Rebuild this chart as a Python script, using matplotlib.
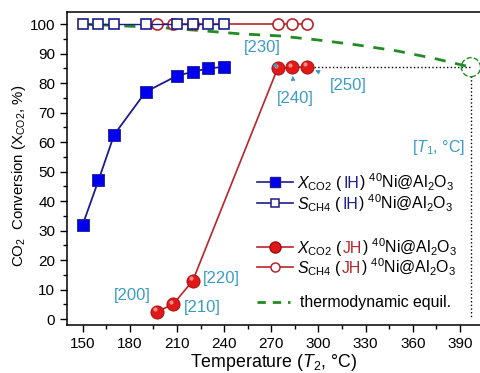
import matplotlib
matplotlib.use("Agg")
import matplotlib.pyplot as plt
from matplotlib import transforms
from matplotlib.lines import Line2D
from matplotlib.offsetbox import (AnchoredOffsetbox, DrawingArea, HPacker,
                                  TextArea)

plt.rcParams['font.family'] = ['Liberation Sans', 'DejaVu Sans']
plt.rcParams['mathtext.fontset'] = 'custom'
plt.rcParams['mathtext.rm'] = 'Liberation Sans'
plt.rcParams['mathtext.it'] = 'Liberation Sans:italic'
plt.rcParams['mathtext.bf'] = 'Liberation Sans:bold'

# ---- data ----
ih_temp = [150, 160, 170, 190, 210, 220, 230, 240]
ih_xco2 = [32.0, 47.0, 62.5, 77.0, 82.5, 83.8, 85.0, 85.5]
ih_sch4 = [100, 100, 100, 100, 100, 100, 100, 100]

jh_temp = [197, 207.5, 220, 274, 283, 293]
jh_xco2 = [2.5, 5.0, 13.0, 85.0, 85.3, 85.5]
jh_sch4 = [100, 100, 100, 100, 100, 100]
jh_t1 = ["[200]", "[210]", "[220]", "[230]", "[240]", "[250]"]

eq_temp = [150, 175, 200, 225, 250, 275, 300, 325, 350, 375, 397]
eq_conv = [100, 99.4, 98.8, 97.8, 96.7, 96.0, 94.6, 92.9, 90.9, 88.2, 85.4]

# label positions for the T1 annotations (data coords)
lab_pos = [(181.5, 8.1), (226, 4.1), (238.5, 13.6),
           (264, 91.9), (285, 74.9), (319, 79.3)]

navy = '#1c1c8c'
blue = '#0000ee'
red = '#e01818'
dred = '#b5262a'
green = '#228b22'
cyan = '#3b9cc4'

fig = plt.figure(figsize=(4.81, 3.73), dpi=100)
ax = fig.add_axes([67 / 481, 48 / 373, 414 / 481, 313 / 373])

# thermodynamic equilibrium
ax.plot(eq_temp, eq_conv, '--', color=green, lw=2.0, dashes=(4, 3.5), zorder=1)
ax.scatter([eq_temp[-1]], [eq_conv[-1]], s=190, facecolors='none',
           edgecolors=green, linestyles='--', linewidths=1.0, zorder=2)
# dotted guide lines to the equilibrium point
ax.plot([jh_temp[-1] + 4, eq_temp[-1]], [jh_xco2[-1], jh_xco2[-1]], ':',
        color='k', lw=1.0, zorder=1)
ax.plot([eq_temp[-1], eq_temp[-1]], [eq_conv[-1] - 3, 0], ':', color='k',
        lw=1.0, zorder=1)

# IH series
ax.plot(ih_temp, ih_xco2, '-s', color=navy, lw=1.3, ms=8.5,
        mfc=blue, mec=navy, mew=0.6, zorder=4)
ax.plot(ih_temp, ih_sch4, '-s', color=navy, lw=1.0, ms=7, mfc='white',
        mec=navy, mew=1.2, zorder=4)

# JH series
ax.plot(jh_temp, jh_sch4, '-o', color=dred, lw=1.2, ms=8, mfc='white',
        mec=dred, mew=1.2, zorder=3)
ax.plot(jh_temp, jh_xco2, '-o', color=dred, lw=1.2, ms=9.5, mfc=red,
        mec='#9c1010', mew=0.6, zorder=4)
hl = transforms.offset_copy(ax.transData, fig=fig, x=-1.5, y=1.8, units='points')
ax.plot(jh_temp, jh_xco2, 'o', ms=3, mfc='#ff9a9a', mec='none', alpha=0.9,
        transform=hl, zorder=5)

# T1 annotations
for i, (lab, (tx, ty)) in enumerate(zip(jh_t1, lab_pos)):
    if i < 3:
        ax.text(tx, ty, lab, color=cyan, fontsize=12, ha='center',
                va='center', zorder=6)
    else:
        ax.annotate(lab, xy=(jh_temp[i], jh_xco2[i]), xytext=(tx, ty),
                    color=cyan, fontsize=12, ha='center', va='center',
                    arrowprops=dict(arrowstyle='-|>', color=cyan, lw=0.8,
                                    mutation_scale=6, shrinkA=7, shrinkB=6),
                    zorder=6)
ax.text(376.5, 58.3, "[$T_1$, °C]", color=cyan, fontsize=11.5,
        ha='center', va='center')

# custom legend with coloured IH / JH
rows = [
    (0.457, dict(marker='s', color=navy, mfc=blue, mec=navy, ms=7),
     "$X_{\\mathrm{CO2}}$ (", "IH", navy),
    (0.390, dict(marker='s', color=navy, mfc='white', mec=navy, ms=6, mew=1.1),
     "$S_{\\mathrm{CH4}}$ (", "IH", navy),
    (0.249, dict(marker='o', color=dred, mfc=red, mec='#9c1010', ms=8),
     "$X_{\\mathrm{CO2}}$ (", "JH", dred),
    (0.185, dict(marker='o', color=dred, mfc='white', mec=dred, ms=6.5, mew=1.1),
     "$S_{\\mathrm{CH4}}$ (", "JH", dred),
]
fs_leg = 11.4
tp = dict(size=fs_leg)
for yfrac, style, pre, mode, mcol in rows:
    da = DrawingArea(26, 8, 0, 0)
    da.add_artist(Line2D([0, 26], [4, 4], lw=1.2, color=style.pop('color')))
    da.add_artist(Line2D([13], [4], linestyle='none', **style))
    txt = HPacker(children=[TextArea(pre, textprops=tp),
                            TextArea(mode, textprops=dict(size=fs_leg, color=mcol)),
                            TextArea(") $^{40}$Ni@Al$_2$O$_3$", textprops=tp)],
                  align='baseline', pad=0, sep=0)
    box = HPacker(children=[da, txt], align='center', pad=0, sep=3)
    ab = AnchoredOffsetbox(loc='center left', child=box, pad=0, frameon=False,
                           bbox_to_anchor=(0.459, yfrac),
                           bbox_transform=ax.transAxes, borderpad=0)
    ax.add_artist(ab)

da = DrawingArea(24, 8, 0, 0)
da.add_artist(Line2D([0, 24], [4, 4], lw=2.0, color=green, ls='--',
                     dashes=(3, 2.5)))
box = HPacker(children=[da, TextArea("thermodynamic equil.", textprops=tp)],
              align='center', pad=0, sep=7)
ax.add_artist(AnchoredOffsetbox(loc='center left', child=box, pad=0,
                                frameon=False, bbox_to_anchor=(0.459, 0.073),
                                bbox_transform=ax.transAxes, borderpad=0))

# axes styling
ax.set_xlim(140, 403.4)
ax.set_ylim(-2, 104.1)
ax.set_xticks(range(150, 391, 30))
ax.set_xticks(range(165, 400, 30), minor=True)
ax.set_yticks(range(0, 101, 10))
ax.set_yticks(range(5, 101, 10), minor=True)
ax.tick_params(which='major', direction='out', length=5, width=1.0,
               labelsize=11)
ax.tick_params(which='minor', direction='out', length=3, width=1.0)
ax.spines['right'].set_visible(False)
for s in ['left', 'bottom', 'top']:
    ax.spines[s].set_linewidth(1.1)

ax.set_xlabel("Temperature ($T_2$, °C)", fontsize=12.8, labelpad=1)
ax.set_ylabel("CO$_2$  Conversion ($\\mathrm{X}_{\\mathrm{CO2}}$, %)",
              fontsize=10.8)
ax.yaxis.set_label_coords(-0.094, 0.476)

fig.savefig("out.png", dpi=100)
